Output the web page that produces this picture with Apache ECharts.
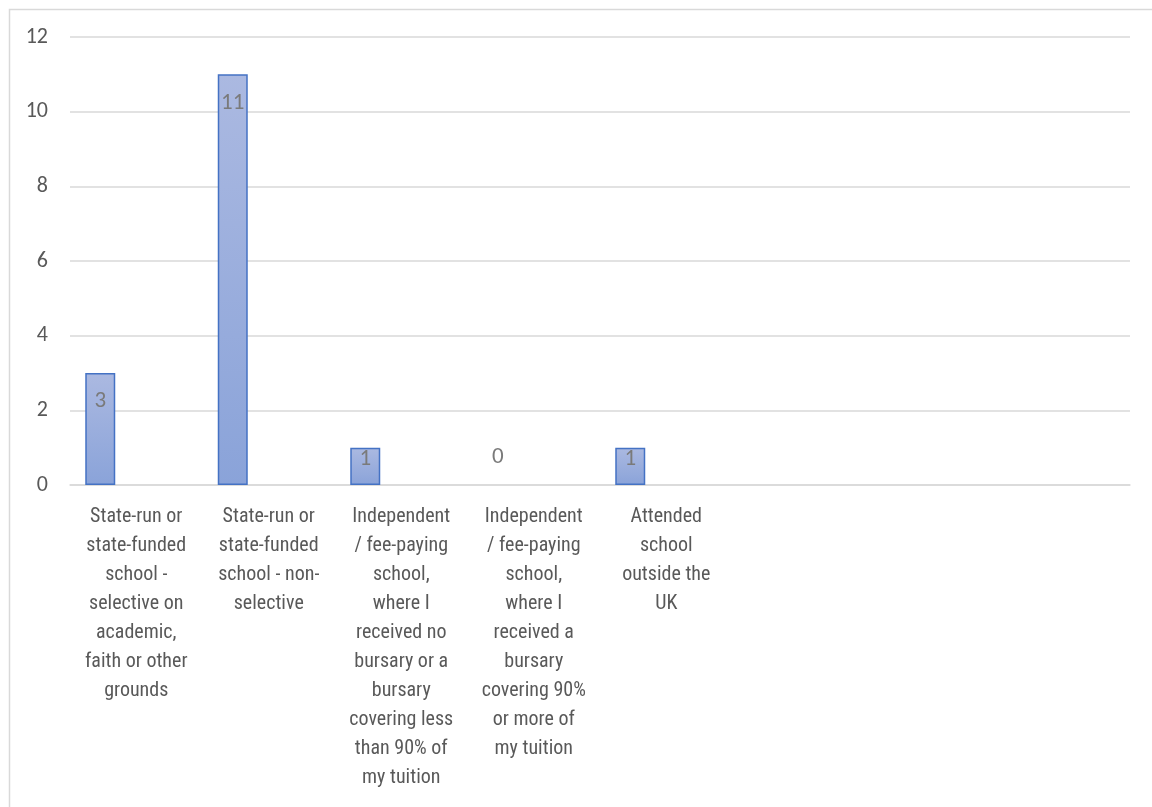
<!DOCTYPE html>
<html>
<head>
<meta charset="utf-8">
<script src="https://cdn.jsdelivr.net/npm/echarts@6/dist/echarts.min.js"></script>
<style>
html,body{margin:0;padding:0;background:#fff;}
#chart{width:1152px;height:807px;}
</style>
</head>
<body>
<div id="chart"></div>
<script>
const categories = [
  "State-run or\nstate-funded\nschool -\nselective on\nacademic,\nfaith or other\ngrounds",
  "State-run or\nstate-funded\nschool - non-\nselective",
  "Independent\n/ fee-paying\nschool,\nwhere I\nreceived no\nbursary or a\nbursary\ncovering less\nthan 90% of\nmy tuition",
  "Independent\n/ fee-paying\nschool,\nwhere I\nreceived a\nbursary\ncovering 90%\nor more of\nmy tuition",
  "Attended\nschool\noutside the\nUK",
  " ", "  ", "   "
];
const values = [3, 11, 1, 0, 1, null, null, null];
const yTicks = [0, 2, 4, 6, 8, 10, 12];

const FONT = "Carlito, Calibri, sans-serif";
const CAT_FONT = "'Roboto Condensed', Carlito, sans-serif";
const TXT = '#595959';

function labelFor(v) {
  if (v === 0) return { position: 'top', distance: 16 };
  if (v !== null && v <= 1) return { position: 'insideTop', distance: 0 };
  return { position: 'insideTop', distance: 17 };
}

const chart = echarts.init(document.getElementById('chart'));
chart.setOption({
  animation: false,
  backgroundColor: '#ffffff',
  graphic: [{
    type: 'rect', left: 7, top: 7, silent: true,
    shape: { width: 1300, height: 1000 },
    style: { fill: 'none', stroke: '#d9d9d9', lineWidth: 1.5 }
  }],
  grid: { left: 70, right: 22, top: 37, bottom: 322, containLabel: false },
  xAxis: {
    type: 'category',
    data: categories,
    axisLine: { show: true, lineStyle: { color: '#d9d9d9', width: 1.5 } },
    axisTick: { show: false },
    axisLabel: {
      interval: 0, color: TXT, fontFamily: CAT_FONT, fontSize: 20,
      lineHeight: 29, margin: 17, align: 'center'
    }
  },
  yAxis: {
    type: 'value', min: yTicks[0], max: yTicks[yTicks.length - 1], interval: 2,
    axisLine: { show: false }, axisTick: { show: false },
    axisLabel: { color: TXT, fontFamily: FONT, fontSize: 22, margin: 22 },
    splitLine: { lineStyle: { color: '#d9d9d9', width: 1.5 } }
  },
  series: [
    {
      type: 'bar',
      barWidth: 30,
      barGap: '140%',
      data: values.map(v => ({
        value: v,
        label: Object.assign({ show: v !== null }, labelFor(v)),
        itemStyle: v === 0 ? { borderWidth: 0, borderColor: 'rgba(0,0,0,0)', color: 'rgba(0,0,0,0)' } : undefined
      })),
      itemStyle: {
        color: new echarts.graphic.LinearGradient(0, 0, 0, 1, [
          { offset: 0, color: '#abb9e1' },
          { offset: 1, color: '#8aa3d9' }
        ]),
        borderColor: '#4472c4',
        borderWidth: 1.5
      },
      label: {
        color: '#7a7a7a', fontFamily: FONT, fontSize: 23
      }
    },
    {
      type: 'bar',
      barWidth: 30,
      data: values.map(() => null)
    }
  ]
});
</script>
</body>
</html>
